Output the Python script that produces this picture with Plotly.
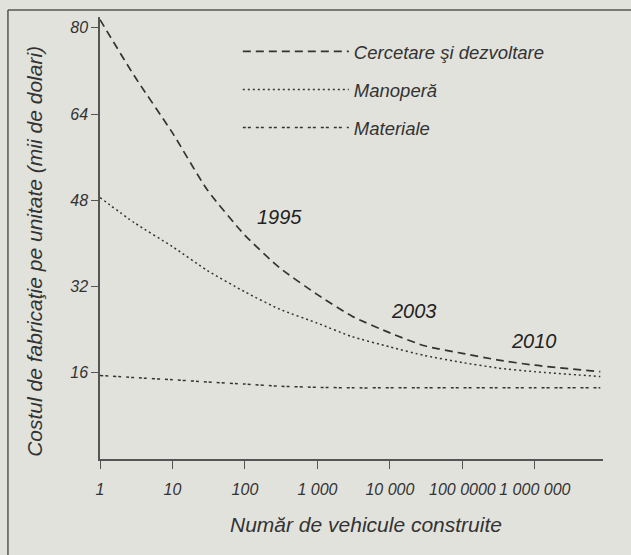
import plotly.graph_objects as go

# ---- data ----
vehicles = [1, 3, 10, 30, 100, 300, 1000, 3000, 10000, 30000, 100000, 300000, 1000000, 8000000]
cercetare = [81.5, 71.0, 60.5, 50.0, 41.5, 35.5, 30.5, 26.5, 23.4, 21.0, 19.6, 18.4, 17.4, 16.2]
manopera = [48.5, 43.8, 39.4, 35.0, 31.0, 27.8, 25.2, 22.7, 20.8, 19.2, 17.9, 16.9, 16.2, 15.3]
materiale = [15.5, 15.1, 14.7, 14.3, 13.9, 13.5, 13.3, 13.2, 13.2, 13.2, 13.2, 13.2, 13.2, 13.2]

series_names = ["Cercetare şi dezvoltare", "Manoperă", "Materiale"]
x_tickvals = [1, 10, 100, 1000, 10000, 100000, 1000000]
x_ticktext = ["1", "10", "100", "1 000", "10 000", "100 0000", "1 000 000"]
y_tickvals = [16, 32, 48, 64, 80]
year_labels = ["1995", "2003", "2010"]

BG = "#e2e2dc"
INK = "#333333"
FONT = "Liberation Sans, Arial, sans-serif"

fig = go.Figure()
fig.add_trace(go.Scatter(x=vehicles, y=cercetare, mode="lines", name=series_names[0],
                         line=dict(color=INK, width=1.7, dash="8px,5px", shape="spline", smoothing=0.6),
                         legend="legend"))
fig.add_trace(go.Scatter(x=vehicles, y=manopera, mode="lines", name=series_names[1],
                         line=dict(color=INK, width=1.5, dash="2px,3px", shape="spline", smoothing=0.6),
                         legend="legend2"))
fig.add_trace(go.Scatter(x=vehicles, y=materiale, mode="lines", name=series_names[2],
                         line=dict(color=INK, width=1.5, dash="3px,2px,3px,5px", shape="spline", smoothing=0.6),
                         legend="legend3"))

leg_common = dict(xanchor="left", yanchor="middle", bgcolor="rgba(0,0,0,0)", borderwidth=0,
                  itemwidth=106, font=dict(family=FONT, size=18.5, color="#333", style="italic"))
legend_pos = [0.274, 0.921, 0.835, 0.749]

annotations = [
    dict(text="Costul de fabricaţie pe unitate (mii de dolari)", xref="paper", yref="paper",
         x=-0.129, y=0.469, xanchor="center", yanchor="middle", textangle=-90, showarrow=False,
         font=dict(family=FONT, size=21, color="#333", style="italic")),
    dict(text="Număr de vehicule construite", xref="paper", yref="paper",
         x=0.529, y=-0.148, xanchor="center", yanchor="middle", showarrow=False,
         font=dict(family=FONT, size=21, color="#333", style="italic")),
]
year_pos = [(2.48, 44.9), (4.33, 27.4), (5.99, 21.9)]
for lab, (lx, ly) in zip(year_labels, year_pos):
    annotations.append(dict(text=lab, x=lx, y=ly, xref="x", yref="y", showarrow=False,
                            xanchor="center", yanchor="middle",
                            font=dict(family=FONT, size=20, color="#222", style="italic")))

fig.update_layout(
    width=631, height=555,
    margin=dict(l=100, r=28, t=17, b=96),
    paper_bgcolor=BG, plot_bgcolor=BG,
    font=dict(family=FONT, color="#333"),
    showlegend=True,
    legend=dict(x=legend_pos[0], y=legend_pos[1], **leg_common),
    legend2=dict(x=legend_pos[0], y=legend_pos[2], **leg_common),
    legend3=dict(x=legend_pos[0], y=legend_pos[3], **leg_common),
    annotations=annotations,
    shapes=[
        dict(type="line", xref="paper", yref="paper", x0=-0.183, x1=1.1, y0=1.016, y1=1.016,
             line=dict(color="#555", width=1.5)),
        dict(type="line", xref="paper", yref="paper", x0=-0.183, x1=-0.183, y0=-0.3, y1=1.016,
             line=dict(color="#555", width=1.5)),
    ],
)
fig.update_xaxes(type="log", range=[0, 6.94], tickvals=x_tickvals, ticktext=x_ticktext,
                 showgrid=False, zeroline=False, showline=True, linecolor="#555", linewidth=1.5,
                 ticks="outside", ticklen=8, tickcolor="#555", tickwidth=1.3, ticklabelstandoff=7,
                 tickfont=dict(family=FONT, size=16, color="#333", style="italic"))
fig.update_yaxes(range=[0, 82], tickvals=y_tickvals,
                 showgrid=False, zeroline=False, showline=True, linecolor="#555", linewidth=1.5,
                 ticks="outside", ticklen=7, tickcolor="#555", tickwidth=1.3,
                 tickfont=dict(family=FONT, size=16, color="#333", style="italic"))

fig.write_html("out.html", config={"displayModeBar": False},
               post_script="document.body.style.margin='0';document.body.style.background='" + BG + "';")
